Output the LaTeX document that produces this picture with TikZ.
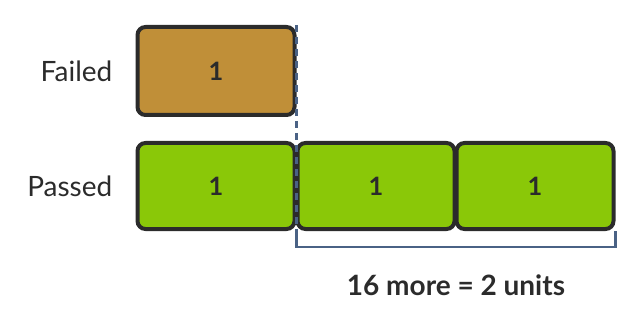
\documentclass[tikz,border=0pt]{standalone}
\usepackage{fontspec}
\setmainfont{Lato}
\usepackage{tikz}
\usetikzlibrary{positioning,calc}

\definecolor{boxline}{HTML}{2B2B2B}
\definecolor{failfill}{HTML}{C08F38}
\definecolor{passfill}{HTML}{8AC808}
\definecolor{guide}{HTML}{4A6285}

\begin{document}
\begin{tikzpicture}[x=0.75pt, y=-0.75pt,
    unit/.style={draw=boxline, line width=3pt, rounded corners=6pt, minimum width=157pt*0.75, minimum height=88pt*0.75, font=\fontsize{19}{21}\selectfont\bfseries, text=boxline},
    rowlbl/.style={anchor=east, font=\fontsize{21}{24}\selectfont, text=boxline},
    guideline/.style={draw=guide, line width=1.6pt},
]
\useasboundingbox (0,0) rectangle (642,317);
% Failed row
\node[unit, fill=failfill] (fail) at (216,71) {1};
\node[rowlbl] (faillbl) at (117,71) {Failed};

% Passed row
\node[unit, fill=passfill, minimum height=86pt*0.75] (p1) at (216,186) {1};
\node[unit, fill=passfill, minimum height=86pt*0.75] (p2) at (376,186) {1};
\node[unit, fill=passfill, minimum height=86pt*0.75] (p3) at (535,186) {1};
\node[rowlbl] (passlbl) at (117,186) {Passed};

% Guide line and bracket
\draw[guideline, dash pattern=on 5pt off 4pt] (fail.north east) -- (p1.south east);
\draw[guideline] (p1.south east) -- ++(0,16) coordinate (bl) -| (p3.south east);
\node[font=\fontsize{21}{24}\selectfont\bfseries, text=boxline] (more) at ($(bl)!0.5!(bl -| p3.east)+(0,38)$) {16 more = 2 units};
\end{tikzpicture}
\end{document}
